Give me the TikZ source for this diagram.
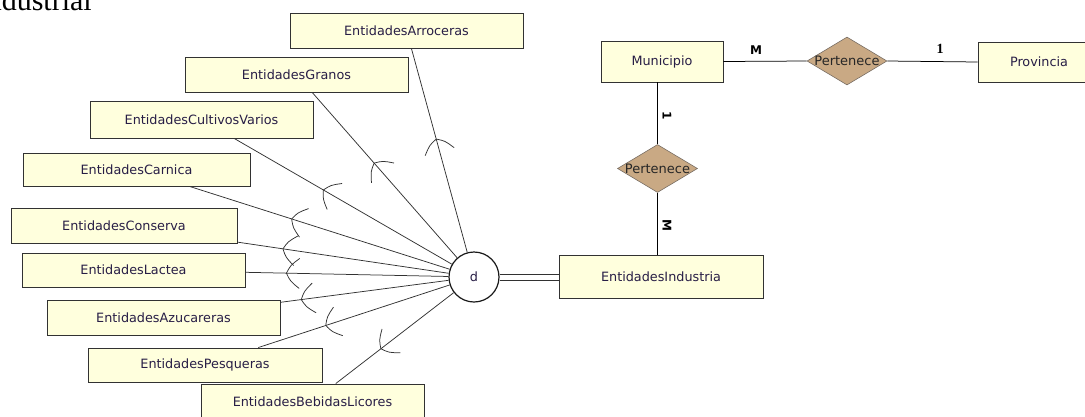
\documentclass[tikz,border=0pt]{standalone}
\usepackage{fontspec}
\setmainfont{DejaVu Sans}
\newfontfamily\serifface{Liberation Serif}
\usetikzlibrary{shapes.geometric,decorations.markings}

\definecolor{boxfill}{RGB}{255,255,221}
\definecolor{boxline}{RGB}{50,50,50}
\definecolor{boxtext}{RGB}{40,30,70}
\definecolor{relfill}{RGB}{201,169,132}
\definecolor{relline}{RGB}{120,110,100}
\definecolor{linkgray}{RGB}{50,50,50}

\tikzset{
  entity/.style={draw=boxline, fill=boxfill, line width=0.9pt, inner sep=0pt,
    text=boxtext, font=\fontsize{12.8}{14}\selectfont},
  rel/.style={diamond, draw=relline, fill=relfill, line width=0.6pt, inner sep=0pt,
    minimum width=80pt, minimum height=48pt},
  reltext/.style={font=\fontsize{13}{15}\selectfont, text=black!85},
  link/.style={draw=linkgray, line width=0.75pt},
  card/.style={font=\bfseries\fontsize{12}{12}\selectfont, inner sep=0pt, text=black},
  % subclass symbol sitting on a specialization line
  subset/.style={postaction={decorate}, decoration={markings,
    mark=at position #1 with {\draw[link] (13pt,15pt) .. controls (4pt,8pt) .. (0pt,0pt)
      .. controls (4pt,-8pt) .. (13pt,-15pt);}}}
}

\begin{document}
\begin{tikzpicture}[x=1pt,y=-1pt]
\useasboundingbox (0,0) rectangle (1085,416);
\clip (0,0) rectangle (1085,416);

% heading fragment
\node[anchor=base east, inner sep=0pt, font=\serifface\fontsize{30}{30}\selectfont] (head) at (92,10) {ndustrial};

% subclasses
\node[entity, minimum width=233pt, minimum height=35pt] (arroceras) at (406.5,30.5) {EntidadesArroceras};
\node[entity, minimum width=223pt, minimum height=35pt] (granos) at (296.5,74.5) {EntidadesGranos};
\node[entity, minimum width=223pt, minimum height=37pt] (cultivos) at (201.5,119.5) {EntidadesCultivosVarios};
\node[entity, minimum width=227pt, minimum height=33pt] (carnica) at (136.5,169.5) {EntidadesCarnica};
\node[entity, minimum width=226pt, minimum height=35pt] (conserva) at (124,225.5) {EntidadesConserva};
\node[entity, minimum width=223pt, minimum height=34pt] (lactea) at (133.5,270) {EntidadesLactea};
\node[entity, minimum width=233pt, minimum height=35pt] (azucar) at (163.5,317.5) {EntidadesAzucareras};
\node[entity, minimum width=234pt, minimum height=34pt] (pesq) at (205,365) {EntidadesPesqueras};
\node[entity, minimum width=223pt, minimum height=35pt] (bebidas) at (312.5,401.5) {EntidadesBebidasLicores};

% superclass and the other entities
\node[entity, minimum width=204pt, minimum height=43pt] (ind) at (661,277) {EntidadesIndustria};
\node[entity, minimum width=122pt, minimum height=41pt] (muni) at (662,61.5) {Municipio};
\node[entity, minimum width=122pt, minimum height=40pt] (prov) at (1039,62) {Provincia};

% disjoint specialization circle
\node[circle, draw=black!90, fill=white, line width=1.2pt, minimum size=50pt, inner sep=0pt,
  text=boxtext, font=\fontsize{12.8}{14}\selectfont] (d) at (474,277) {d};

% relationships
\node[rel] (rel1) at (847,61) {};
\node[reltext] (rel1t) at (rel1.center) {Pertenece};
\node[rel] (rel2) at (657.5,168.5) {};
\node[reltext] (rel2t) at (rel2.center) {Pertenece};

% specialization lines
\draw[link, subset=94pt] (arroceras) -- (d);
\draw[link, subset=94pt] (granos) -- (d);
\draw[link, subset=103pt] (cultivos) -- (d);
\draw[link, subset=107pt] (carnica) -- (d);
\draw[link, subset=46pt] (conserva) -- (d);
\draw[link, subset=41pt] (lactea) -- (d);
\draw[link, subset=21pt] (azucar) -- (d);
\draw[link, subset=71pt] (pesq) -- (d);
\draw[link, subset=57pt] (bebidas) -- (d);

% total participation of the superclass: two parallel lines
\draw[link] ([yshift=3pt]d.east) -- ([yshift=3pt]d.east -| ind.west);
\draw[link] ([yshift=-3pt]d.east) -- ([yshift=-3pt]d.east -| ind.west);

% relationship connectors
\draw[link, draw=black] (muni.east) -- (rel1.west);
\draw[link, draw=black] (rel1.east) -- (prov.west);
\draw[link, draw=black] (rel2.north) -- (rel2.north |- muni.south);
\draw[link, draw=black] (rel2.south) -- (rel2.south |- ind.north);

% cardinalities
\node[card] (cM1) at (756,50) {M};
\node[card, font=\serifface\bfseries\fontsize{14}{14}\selectfont] (c11) at (940,49) {1};
\node[card, rotate=-90] (c12) at (667,116) {1};
\node[card, rotate=-90] (cM2) at (667,225) {M};
\end{tikzpicture}
\end{document}
